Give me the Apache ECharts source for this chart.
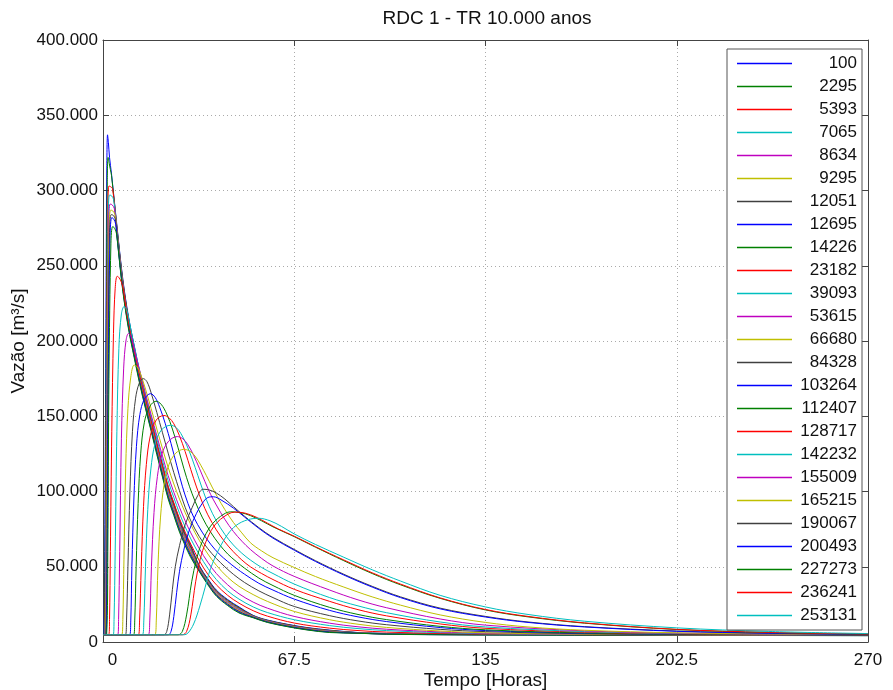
<!DOCTYPE html>
<html><head><meta charset="utf-8">
<script src="https://cdn.jsdelivr.net/npm/echarts@6/dist/echarts.min.js"></script>
<style>html,body{margin:0;padding:0;background:#fff}#c{width:893px;height:690px}</style>
</head><body><div id="c"></div>
<script>
const titleText = 'RDC 1 - TR 10.000 anos';
const xName = 'Tempo [Horas]';
const yName = 'Vazão [m³/s]';
const legendNames = ['100','2295','5393','7065','8634','9295','12051','12695','14226','23182','39093','53615','66680','84328','103264','112407','128717','142232','155009','165215','190067','200493','227273','236241','253131'];
const colorCycle = ['#0000ff','#008000','#ff0000','#00bfbf','#bf00bf','#bfbf00','#404040'];

// [hours, flow in thousands of m3/s]
const s100 = [[0,4.8],[0.3,5.5],[0.6,60],[1.0,200],[1.35,315],[1.6,337],[1.9,332],[2.3,322],[3,311],[5,275],[7,241],[9,216],[11,197],[13,179],[15,163],[17,148],[19,132.5],[21,117.5],[23,103],[25,92],[27,81],[29,72],[31,64],[34,50.7],[37,42],[40,34.5],[44,28.2],[48,23.3],[53,17.7],[58,14.6],[65,11.8],[72,9.6],[80,7.9],[90,6.3],[100,5.7],[120,5.3],[160,5.1],[210,4.9],[270,4.7]];
const s2295 = [[0,4.8],[0.4,5.5],[0.75,60],[1.15,200],[1.5,305],[1.8,322],[2.2,318],[2.6,314],[3,310],[5,274],[7,240],[9,215],[11,196],[13,178],[15,162],[17,147],[19,131.5],[21,116.5],[23,102],[25,91],[27,80],[29,71],[31,63],[34,50.2],[37,41.5],[40,34],[44,27.7],[48,22.8],[53,17.5],[58,14.4],[65,11.6],[72,9.4],[80,7.7],[90,6.2],[100,5.6],[120,5.2],[160,5.0],[210,4.8],[270,4.6]];
const s5393 = [[0,4.8],[0.55,5.5],[0.9,60],[1.3,190],[1.7,285],[2.1,303],[2.7,302.5],[3.4,301],[5,273],[7,239],[9,214],[11,195],[13,177],[15,161],[17,146],[19,130.5],[21,115.5],[23,101],[25,90],[27,79],[29,70],[31,62],[34,49.7],[37,41],[40,33.5],[44,27.2],[48,22.3],[53,17.3],[58,14.2],[65,11.4],[72,9.2],[80,7.5],[90,6.15],[100,5.55],[120,5.15],[160,4.95],[210,4.75],[270,4.55]];
const s7065 = [[0,4.8],[0.65,5.5],[1.0,60],[1.4,190],[1.85,282],[2.3,297],[3.0,296.5],[3.75,294],[5,272],[7,238],[9,213],[11,194],[13,176],[15,160],[17,145],[19,129.5],[21,114.5],[23,100],[25,89],[27,78],[29,69],[31,61],[34,49.2],[37,40.5],[40,33],[44,26.7],[48,21.8],[53,17.1],[58,14],[65,11.2],[72,9],[80,7.3],[90,6.1],[100,5.5],[120,5.1],[160,4.9],[210,4.7],[270,4.5]];
const s8634 = [[0,4.8],[0.75,5.5],[1.1,60],[1.5,185],[2.0,277],[2.5,291],[3.2,290.5],[4.0,288],[5,271],[7,237],[9,212],[11,193],[13,175],[15,159],[17,144],[19,128.5],[21,113.5],[23,99],[25,88],[27,77],[29,68],[31,60],[34,48.7],[37,40],[40,32.5],[44,26.2],[48,21.3],[53,16.9],[58,13.8],[65,11],[72,8.8],[80,7.1],[90,6],[100,5.4],[120,5.0],[160,4.8],[210,4.6],[270,4.4]];
const s9295 = [[0,4.8],[0.85,5.5],[1.2,60],[1.6,185],[2.15,275],[2.7,287],[3.4,286.5],[4.2,284],[5,270],[7,236],[9,211],[11,192],[13,174],[15,158],[17,143],[19,127.5],[21,112.5],[23,98],[25,87],[27,76],[29,67],[31,59],[34,48.2],[37,39.5],[40,32],[44,25.7],[48,20.8],[53,16.7],[58,13.6],[65,10.8],[72,8.6],[80,6.9],[90,5.95],[100,5.35],[120,4.95],[160,4.75],[210,4.55],[270,4.35]];
const s12051 = [[0,4.8],[1.0,5.5],[1.35,60],[1.75,180],[2.3,272],[2.9,284],[3.6,283.5],[4.35,281],[5,269],[7,235],[9,210],[11,191],[13,173],[15,157],[17,142],[19,126.5],[21,111.5],[23,97],[25,86],[27,75],[29,66],[31,58],[34,47.7],[37,39],[40,31.5],[44,25.2],[48,20.3],[53,16.5],[58,13.4],[65,10.6],[72,8.4],[80,6.7],[90,5.9],[100,5.3],[120,4.9],[160,4.7],[210,4.5],[270,4.3]];
const s12695 = [[0,4.8],[1.15,5.5],[1.5,60],[1.9,180],[2.5,270],[3.1,282],[3.8,281],[4.5,277.5],[5,268],[7,234],[9,209],[11,190],[13,172],[15,156],[17,141],[19,125.5],[21,110.5],[23,96],[25,85],[27,74],[29,65],[31,57],[34,47.2],[37,38.5],[40,31],[44,24.7],[48,19.8],[53,16.3],[58,13.2],[65,10.4],[72,8.2],[80,6.5],[90,5.85],[100,5.25],[120,4.85],[160,4.65],[210,4.45],[270,4.25]];
const s14226 = [[0,4.8],[1.3,5.5],[1.7,60],[2.1,175],[2.8,265],[3.4,276],[4.1,275],[4.8,271],[5.5,258.5],[7,233],[9,208],[11,189],[13,171],[15,155],[17,140],[19,124.5],[21,109.5],[23,95],[25,84],[27,73],[29,64],[31,56],[34,46.7],[37,38],[40,30.5],[44,24.2],[48,19.3],[53,16.1],[58,13],[65,10.2],[72,8],[80,6.3],[90,5.8],[100,5.2],[120,4.8],[160,4.6],[210,4.4],[270,4.2]];
const s23182 = [[0,4.8],[2.0,4.8],[2.3,15],[2.6,60],[3.1,140],[3.7,205],[4.3,235],[5.0,243],[5.7,242],[6.5,239],[7.2,234],[8,223],[9,213],[11,194.5],[13,177],[15,161.5],[17,147],[19,132],[21,117.5],[23,103.5],[25,92.5],[27,82],[29,73],[31,65],[34,54],[37,45],[40,38],[44,31],[48,25.8],[53,20.8],[58,17.2],[67.5,12.6],[80,9.2],[90,7.6],[100,6.6],[119,5.7],[135,5.3],[170,4.9],[202.5,4.75],[270,4.5]];
const s39093 = [[0,4.8],[3.6,4.8],[3.9,15],[4.3,60],[4.9,140],[5.6,195],[6.5,218],[7.5,223],[8.3,221],[9.2,214],[10,206],[11,197],[13,179.5],[15,164],[17,149.5],[19,135],[21,120.5],[23,107],[25,96],[27,85.5],[29,76.5],[31,68.5],[34,58],[37,49],[40,41.5],[44,34],[48,28.5],[53,23.3],[58,19.6],[67.5,14.8],[80,10.9],[90,8.9],[100,7.6],[119,6.2],[135,5.5],[170,5.0],[202.5,4.8],[270,4.55]];
const s53615 = [[0,4.8],[5.2,4.8],[5.5,15],[5.9,60],[6.5,135],[7.3,182],[8.1,200],[9.0,205],[9.8,203.5],[10.6,198.5],[11.5,191],[13,180],[15,165],[17,151],[19,137],[21,123.5],[23,110.5],[25,99.5],[27,89.5],[29,80.5],[31,72.5],[34,62],[37,53],[40,45.5],[44,38],[48,32],[53,26.5],[58,22.5],[67.5,17],[80,12.5],[90,10.1],[100,8.5],[119,6.7],[135,5.8],[170,5.1],[202.5,4.85],[270,4.6]];
const s66680 = [[0,4.8],[6.6,4.8],[7.0,15],[7.4,55],[8.0,115],[8.8,155],[9.8,176],[11.0,184],[12,183],[13,179.5],[15,168],[17,155],[19,141.5],[21,128.5],[23,116],[25,105],[27,95],[29,86],[31,78],[34,67.5],[37,58.5],[40,51],[44,43],[48,37],[53,31.5],[58,27],[67.5,20.3],[80,14.8],[90,11.8],[100,9.7],[119,7.3],[135,6.1],[170,5.2],[202.5,4.9],[270,4.6]];
const s84328 = [[0,4.8],[7.9,4.8],[8.3,14],[8.8,50],[9.5,100],[10.4,140],[11.5,162],[12.8,172],[14.2,175],[15.5,173],[17,165.5],[19,152.5],[21,139],[23,125.5],[25,112.5],[27,100.5],[29,89.5],[31,80.5],[34,70],[37,62],[40,55.5],[43,50],[46,45],[50,39.5],[55,34],[60,29.5],[67.5,23.6],[80,17.5],[90,14],[100,11.5],[119,8.4],[135,6.9],[170,5.5],[202.5,5.0],[270,4.65]];
const s103264 = [[0,4.8],[9.4,4.8],[9.8,14],[10.2,50],[10.9,95],[11.8,130],[13,151],[14.6,161.5],[16.8,165],[18.4,162.5],[20,156],[22,145],[24,132],[26,117.5],[28,103.5],[30,92],[32,83],[35,73],[38,65],[41,58.5],[44,53.5],[47,49],[50,45],[55,39],[60,34.5],[67.5,28.5],[80,21],[90,16.7],[100,13.6],[119,9.6],[135,7.6],[170,5.8],[202.5,5.2],[270,4.7]];
const s112407 = [[0,4.8],[10.8,4.8],[11.2,14],[11.7,50],[12.4,92],[13.3,125],[14.6,146],[16.5,156.5],[18.7,160],[20.5,158],[22.5,151.5],[24.5,141.5],[26.5,129],[28.5,115.5],[30.5,103.5],[32.5,93.5],[35,83],[38,73],[41,65],[44,58.5],[47,53.5],[50,49],[55,42.5],[60,37.5],[67.5,31],[80,23],[90,18.3],[100,14.9],[119,10.4],[135,8.1],[170,6.0],[202.5,5.3],[270,4.75]];
const s128717 = [[0,4.8],[12.5,4.8],[12.9,14],[13.5,50],[14.3,90],[15.3,118],[16.7,137],[18.8,147.5],[21.5,150.5],[23.3,149],[25,145],[27,137],[29,126.5],[31,114.5],[33,103],[35,93],[37,84.5],[40,74.5],[43,66.5],[46,60],[49,54.5],[52,50],[56,45.5],[60,41.5],[67.5,35],[80,27],[90,21.5],[100,17.4],[119,12],[135,9.1],[170,6.5],[202.5,5.5],[270,4.85]];
const s142232 = [[0,4.8],[13.9,4.8],[14.4,14],[15,50],[15.8,88],[16.9,115],[18.4,132],[20.7,141],[23.8,144],[25.8,142.5],[27.5,138.5],[29.5,131],[31.5,121.5],[33.5,110.5],[35.5,99.5],[37.5,90],[40,80.5],[43,71.5],[46,64.5],[49,59],[52,54.5],[56,49.5],[60,45.5],[67.5,38.5],[80,29.5],[90,24],[100,19.5],[119,13.3],[135,10],[170,6.9],[202.5,5.7],[270,4.95]];
const s155009 = [[0,4.8],[16,4.8],[16.5,14],[17.1,50],[18,86],[19.2,110],[20.8,125],[23.2,133.5],[26.2,136.5],[28.2,135],[30,131],[32,124],[34,115.5],[36,106.5],[38,98],[40,91],[43,81.5],[46,73.5],[49,67],[52,61.5],[56,55.5],[60,50.5],[67.5,43.6],[80,34.5],[90,28],[100,22.8],[119,15.3],[135,11.2],[170,7.4],[202.5,5.9],[270,5.0]];
const s165215 = [[0,4.8],[18.3,4.8],[18.8,14],[19.4,50],[20.3,83],[21.6,105],[23.3,118],[25.7,125.5],[28.5,128],[30.5,127],[32.5,123.5],[34.5,117.5],[36.5,110.5],[38.5,103],[40.5,96],[43,88],[46,79.5],[49,72.5],[52,66],[56,60.5],[60,56],[67.5,49.5],[75,43.5],[85,36.5],[95,30],[105,24.5],[119,18],[135,13],[150,10],[170,7.8],[202.5,6.1],[235,5.4],[270,5.0]];
const s190067 = [[0,4.8],[21.5,4.8],[22.5,7],[23.5,18],[24.5,35],[25.5,50],[27,64],[29,78],[31.5,89.5],[33.5,97.5],[35.3,101.5],[37.5,101],[40,99],[43,95],[46,90],[50,83.5],[55,76],[60,69.5],[67.5,61.5],[75,54],[85,45],[95,37],[105,30],[119,22.5],[135,17],[150,13.3],[170,10.2],[202.5,7.3],[235,5.9],[270,5.1]];
const s200493 = [[0,4.8],[23,4.8],[24,7],[25,17],[26,33],[27,47],[28.5,61],[30.5,74.5],[33,85.5],[35,92],[37,96],[39,96.5],[42,94],[46,89],[50,83],[55,75.5],[60,69],[67.5,61],[75,53.5],[85,44.5],[95,36.5],[105,29.5],[119,22],[135,16.6],[150,13],[170,10],[202.5,7.1],[235,5.8],[270,5.0]];
const s227273 = [[0,4.8],[26.5,4.8],[28,7],[29.5,18],[31.3,40],[33,55],[35,66.5],[38,77],[41.5,83.5],[45,86.5],[48.5,86],[52,84],[56,80.5],[60,76.5],[67.5,70],[75,63],[85,54],[95,45.5],[105,38],[119,29],[135,21.3],[150,16.7],[170,12.5],[202.5,8.3],[235,6.3],[270,5.2]];
const s236241 = [[0,4.8],[28,4.8],[29.5,7],[31,18],[32.7,40],[34.3,55],[36.3,66.5],[39,76.5],[42.5,83],[46.5,86.3],[50,85.7],[54,83],[58,79],[62,75],[67.5,70.3],[75,63.3],[85,54.5],[95,46],[105,38.5],[119,29.3],[135,21.6],[150,17],[170,12.7],[202.5,8.4],[235,6.4],[270,5.3]];
const s253131 = [[0,4.8],[28.5,4.8],[30,6],[32,12],[34.2,24],[36,36],[38,49],[41,62],[44,71.5],[47,77.5],[51,81.2],[55,82.2],[59,80.5],[63,76.8],[67.5,71.8],[75,64.8],[85,56.3],[95,48],[105,40.5],[119,31],[135,23.3],[150,18.3],[170,13.8],[202.5,9.4],[235,7],[270,5.6]];

const seriesData = [s100,s2295,s5393,s7065,s8634,s9295,s12051,s12695,s14226,s23182,s39093,s53615,s66680,s84328,s103264,s112407,s128717,s142232,s155009,s165215,s190067,s200493,s227273,s236241,s253131];

const FONT = '"Liberation Sans", Arial, sans-serif';
const TXT = '#111';
const AX = '#444';

const chart = echarts.init(document.getElementById('c'), null, {renderer: 'canvas'});
const axisCommonX = {type: 'value', min: 0, max: 270, interval: 67.5};
const axisCommonY = {type: 'value', min: 0, max: 400, interval: 50};
chart.setOption({
  animation: false,
  backgroundColor: '#fff',
  textStyle: {fontFamily: FONT},
  graphic: [{type: 'text', x: 487, y: 9, style: {text: titleText, fontSize: 19, fontFamily: FONT, fill: TXT, align: 'center', verticalAlign: 'top'}}],
  grid: {left: 103, right: 25, top: 40, bottom: 48, containLabel: false, outerBoundsMode: 'none'},
  xAxis: [
    Object.assign({}, axisCommonX, {
      position: 'bottom', name: xName, nameLocation: 'middle', nameGap: 29, nameMoveOverlap: false,
      nameTextStyle: {fontSize: 19, color: TXT, fontFamily: FONT},
      axisLine: {show: true, onZero: false, lineStyle: {color: AX, width: 1}},
      axisTick: {show: true, inside: true, length: 6, lineStyle: {color: AX}},
      axisLabel: {fontSize: 17, color: TXT, margin: 10, fontFamily: FONT,
        formatter: v => v === 0 ? '{z|0}' : String(v),
        rich: {z: {padding: [0, 0, 0, 19], fontSize: 17, color: TXT, fontFamily: FONT}}},
      splitLine: {show: true, lineStyle: {type: [1, 3], color: '#aaa', width: 1}}
    }),
    Object.assign({}, axisCommonX, {
      position: 'top',
      axisLine: {show: true, onZero: false, lineStyle: {color: AX, width: 1}},
      axisTick: {show: true, inside: true, length: 6, lineStyle: {color: AX}},
      axisLabel: {show: false}, splitLine: {show: false}
    })
  ],
  yAxis: [
    Object.assign({}, axisCommonY, {
      position: 'left', name: yName, nameLocation: 'middle', nameGap: 75, nameMoveOverlap: false,
      nameTextStyle: {fontSize: 19, color: TXT, fontFamily: FONT},
      axisLine: {show: true, onZero: false, lineStyle: {color: AX, width: 1}},
      axisTick: {show: true, inside: true, length: 6, lineStyle: {color: AX}},
      axisLabel: {fontSize: 17, color: TXT, margin: 5, fontFamily: FONT,
        formatter: v => v === 0 ? '0' : v + '.000'},
      splitLine: {show: true, lineStyle: {type: [1, 3], color: '#aaa', width: 1}}
    }),
    Object.assign({}, axisCommonY, {
      position: 'right',
      axisLine: {show: true, onZero: false, lineStyle: {color: AX, width: 1}},
      axisTick: {show: true, inside: true, length: 6, lineStyle: {color: AX}},
      axisLabel: {show: false}, splitLine: {show: false}
    })
  ],
  legend: {
    orient: 'vertical', left: 727, top: 49, padding: [3, 5, 3, 10],
    itemGap: 0, itemWidth: 55, itemHeight: 1.5, icon: 'rect',
    backgroundColor: '#fff', borderColor: '#555', borderWidth: 1,
    selectedMode: false, data: legendNames,
    formatter: n => '{a|' + n + '}',
    textStyle: {fontSize: 17, color: TXT, lineHeight: 23, fontFamily: FONT,
      rich: {a: {width: 60, align: 'right', fontSize: 17, lineHeight: 23, color: TXT, fontFamily: FONT}}}
  },
  series: legendNames.map((n, i) => ({
    type: 'line', name: n, data: seriesData[i], xAxisIndex: 0, yAxisIndex: 0,
    symbol: 'none', showSymbol: false, smooth: 0.35,
    lineStyle: {width: 1, color: colorCycle[i % 7]},
    itemStyle: {color: colorCycle[i % 7]},
    emphasis: {disabled: true}, silent: true, clip: true
  }))
});
</script></body></html>
